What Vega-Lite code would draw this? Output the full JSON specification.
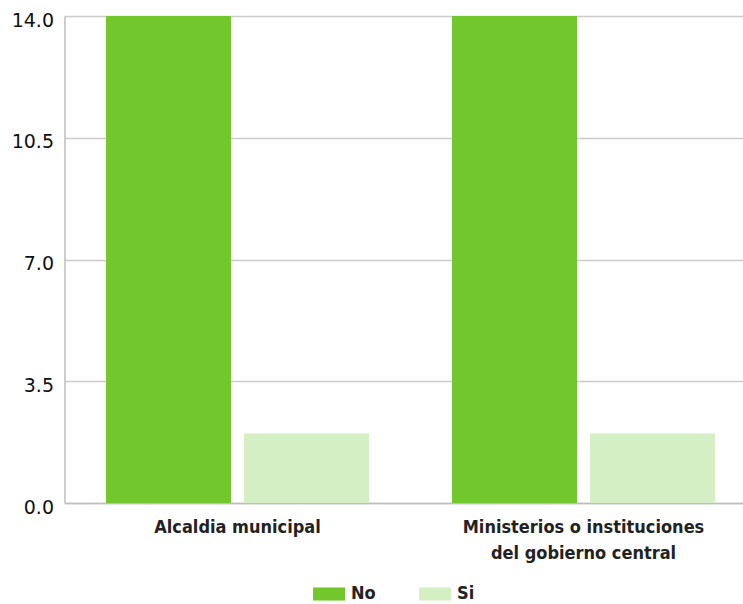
{
  "$schema": "https://vega.github.io/schema/vega-lite/v6.json",
  "autosize": {"type": "none"},
  "padding": {"left": 64.5, "top": 16, "right": 0, "bottom": 101},
  "width": 692,
  "height": 487,
  "background": "white",
  "data": {
    "values": [
      {"institucion": "Alcaldia municipal", "respuesta": "No", "valor": 14},
      {"institucion": "Alcaldia municipal", "respuesta": "Si", "valor": 2},
      {"institucion": "Ministerios o instituciones del gobierno central", "respuesta": "No", "valor": 14},
      {"institucion": "Ministerios o instituciones del gobierno central", "respuesta": "Si", "valor": 2}
    ]
  },
  "mark": {"type": "bar", "clip": false},
  "encoding": {
    "x": {
      "field": "institucion",
      "type": "nominal",
      "sort": null,
      "scale": {"paddingInner": 0.24, "paddingOuter": 0.12},
      "axis": {
        "title": null,
        "labelAngle": 0,
        "ticks": false,
        "domain": true,
        "domainColor": "#bdbdbd",
        "domainWidth": 1.5,
        "labelFont": "DejaVu Sans Condensed",
        "labelFontWeight": "bold",
        "labelFontSize": 18,
        "labelColor": "#222222",
        "labelPadding": 15,
        "labelLineHeight": 26,
        "labelLimit": 400,
        "labelExpr": "datum.label == 'Ministerios o instituciones del gobierno central' ? ['Ministerios o instituciones', 'del gobierno central'] : datum.label"
      }
    },
    "xOffset": {
      "field": "respuesta",
      "type": "nominal",
      "scale": {"paddingInner": 0.094, "paddingOuter": 0}
    },
    "y": {
      "field": "valor",
      "type": "quantitative",
      "scale": {"domain": [0, 14], "nice": false},
      "axis": {
        "title": null,
        "values": [0, 3.5, 7, 10.5, 14],
        "format": ".1f",
        "ticks": false,
        "domain": true,
        "domainColor": "#bdbdbd",
        "domainWidth": 1.5,
        "grid": true,
        "gridColor": "#cccccc",
        "gridWidth": 1.5,
        "labelFont": "DejaVu Sans",
        "labelFontSize": 19,
        "labelColor": "#111111",
        "labelPadding": 11,
        "labelBaseline": "middle",
        "labelOffset": 4,
        "labelFlush": false
      }
    },
    "color": {
      "field": "respuesta",
      "type": "nominal",
      "scale": {"domain": ["No", "Si"], "range": ["#71c72c", "#d4efc3"]},
      "legend": {
        "title": null,
        "orient": "none",
        "direction": "horizontal",
        "legendX": 248.5,
        "legendY": 562,
        "padding": 0,
        "symbolType": "M-1,-0.41H1V0.41H-1Z",
        "symbolSize": 1024,
        "symbolStrokeWidth": 0,
        "symbolOpacity": 1,
        "labelFont": "DejaVu Sans Condensed",
        "labelFontWeight": "bold",
        "labelFontSize": 18,
        "labelColor": "#222222",
        "labelOffset": 6,
        "columnPadding": 43
      }
    }
  },
  "config": {
    "view": {"stroke": null},
    "bar": {"stroke": null}
  }
}
